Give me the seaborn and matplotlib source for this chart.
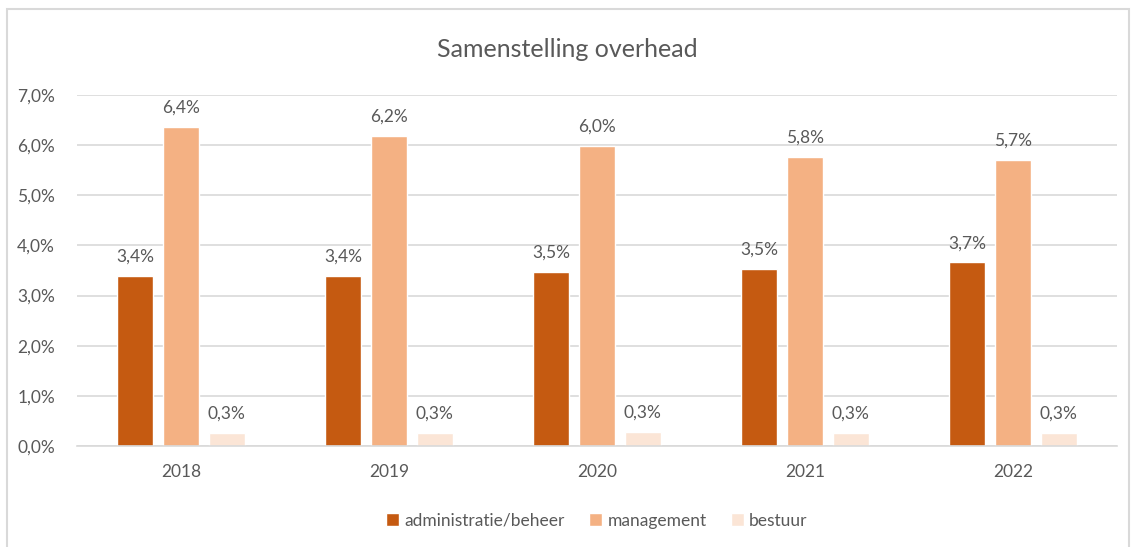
import pandas as pd
import matplotlib.pyplot as plt
import seaborn as sns
from matplotlib.patches import Rectangle

# Data (percent)
years = ['2018', '2019', '2020', '2021', '2022']
series = ['administratie/beheer', 'management', 'bestuur']
admin = [3.39, 3.40, 3.47, 3.53, 3.66]
management = [6.37, 6.18, 5.98, 5.76, 5.70]
bestuur = [0.26, 0.26, 0.28, 0.26, 0.26]
colors = ['#C55A11', '#F4B183', '#FBE5D6']

df = pd.DataFrame({'jaar': years * 3,
                   'reeks': [s for s in series for _ in years],
                   'waarde': admin + management + bestuur})

sns.set_style('white')
plt.rcParams['font.family'] = ['Lato', 'DejaVu Sans']
text_col = '#595959'

fig = plt.figure(figsize=(11.34, 5.47), dpi=100)
ax = fig.add_axes([0.068, 0.1846, 0.917, 0.6417])

sns.barplot(data=df, x='jaar', y='waarde', hue='reeks', palette=colors,
            width=0.66, gap=0.21, ax=ax, legend=True, saturation=1)

# Data labels
for cont in ax.containers:
    ax.bar_label(cont, labels=[f'{v:.1f}%'.replace('.', ',') for v in cont.datavalues],
                 padding=8, fontsize=12.5, color=text_col)

ax.set_ylim(0, 7)
ax.set_xlim(-0.5, 4.5)
ax.set_yticks(range(0, 8))
ax.set_yticklabels([f'{v},0%' for v in range(0, 8)])
ax.yaxis.grid(True, color='#d9d9d9', linewidth=1.2)
ax.set_axisbelow(True)
for s in ['left', 'right', 'top']:
    ax.spines[s].set_visible(False)
ax.spines['bottom'].set_color('#d9d9d9')
ax.spines['bottom'].set_linewidth(1.2)
ax.tick_params(axis='x', length=0, pad=13, labelsize=12.5, labelcolor=text_col)
ax.tick_params(axis='y', length=0, pad=16, labelsize=12.5, labelcolor=text_col)
ax.set_xlabel('')
ax.set_ylabel('')

fig.suptitle('Samenstelling overhead', y=0.93, fontsize=18, color=text_col)

ax.legend(loc='upper center', bbox_to_anchor=(0.5, -0.145), ncol=3, frameon=False,
          fontsize=12.5, labelcolor=text_col, handlelength=0.75, handleheight=0.75,
          handletextpad=0.3, columnspacing=1.4)

# Chart frame
fig.patches.append(Rectangle((0.006, -0.01), 0.99, 0.993, transform=fig.transFigure,
                             fill=False, edgecolor='#d9d9d9', linewidth=1.5))

plt.savefig('out.png', dpi=100)
